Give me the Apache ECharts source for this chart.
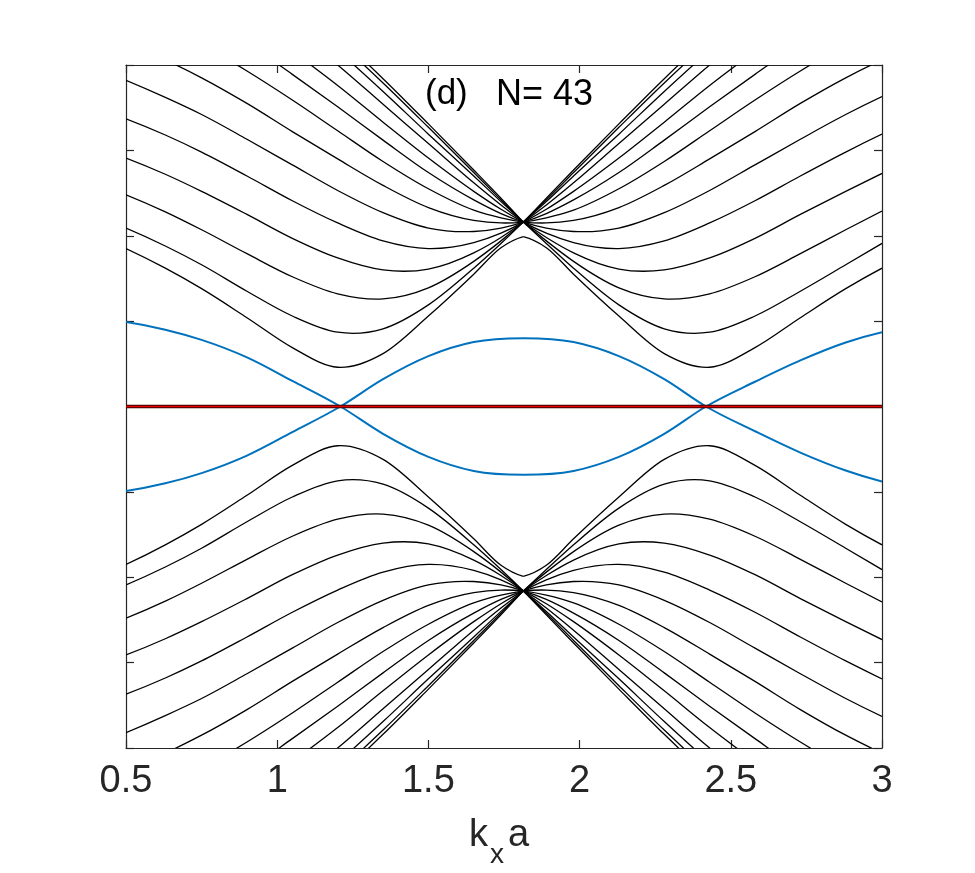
<!DOCTYPE html>
<html>
<head>
<meta charset="utf-8">
<script src="https://cdn.jsdelivr.net/npm/echarts@6/dist/echarts.min.js"></script>
<style>
    html, body { margin: 0; padding: 0; background: #ffffff; }
    #chart { width: 975px; height: 873px; }
</style>
</head>
<body>
<div id="chart"></div>
<script>
// k_x a sample points, left branch ends at the crossing, right branch starts there
var xLeft = [0.5, 0.63, 0.75, 0.9, 1.05, 1.2, 1.35, 1.5, 1.65, 1.74, 1.8138];
var xRight = [1.8138, 1.89, 1.98, 2.13, 2.28, 2.43, 2.58, 2.73, 2.88, 3.0];

// upper black bands, lowest first
var upperLeft = [
    [1.85, 1.62, 1.38, 1.04, 0.69, 0.46, 0.62, 1.06, 1.55, 1.86, 1.99],
    [2.09, 1.88, 1.66, 1.35, 1.06, 0.87, 0.91, 1.19, 1.62, 1.91, 2.16],
    [2.48, 2.28, 2.07, 1.79, 1.52, 1.32, 1.26, 1.39, 1.70, 1.94, 2.16],
    [2.91, 2.72, 2.52, 2.25, 1.97, 1.74, 1.60, 1.61, 1.80, 1.98, 2.16],
    [3.37, 3.18, 2.98, 2.70, 2.41, 2.15, 1.94, 1.85, 1.92, 2.03, 2.16],
    [3.82, 3.62, 3.42, 3.13, 2.83, 2.53, 2.27, 2.09, 2.05, 2.09, 2.16],
    [4.26, 4.06, 3.85, 3.55, 3.22, 2.90, 2.59, 2.33, 2.18, 2.15, 2.16],
    [4.66, 4.46, 4.24, 3.93, 3.59, 3.23, 2.87, 2.55, 2.30, 2.21, 2.16],
    [5.01, 4.80, 4.58, 4.26, 3.89, 3.51, 3.12, 2.74, 2.42, 2.26, 2.16],
    [5.33, 5.11, 4.88, 4.54, 4.16, 3.76, 3.33, 2.91, 2.52, 2.31, 2.16],
    [5.63, 5.41, 5.17, 4.82, 4.43, 4.00, 3.54, 3.08, 2.62, 2.36, 2.16],
    [5.85, 5.63, 5.38, 5.02, 4.62, 4.17, 3.69, 3.19, 2.70, 2.40, 2.16],
    [5.99, 5.76, 5.52, 5.15, 4.74, 4.28, 3.79, 3.27, 2.74, 2.42, 2.16],
    [6.07, 5.84, 5.59, 5.22, 4.80, 4.34, 3.84, 3.31, 2.77, 2.44, 2.16]
];
var upperRight = [
    [1.99, 1.86, 1.55, 1.06, 0.62, 0.46, 0.69, 1.04, 1.38, 1.62],
    [2.16, 1.91, 1.62, 1.19, 0.91, 0.87, 1.06, 1.35, 1.66, 1.91],
    [2.16, 1.94, 1.70, 1.39, 1.26, 1.32, 1.52, 1.79, 2.07, 2.29],
    [2.16, 1.98, 1.80, 1.61, 1.60, 1.74, 1.97, 2.25, 2.52, 2.73],
    [2.16, 2.03, 1.92, 1.85, 1.94, 2.15, 2.41, 2.70, 2.98, 3.19],
    [2.16, 2.09, 2.05, 2.09, 2.27, 2.53, 2.83, 3.13, 3.42, 3.63],
    [2.16, 2.15, 2.18, 2.33, 2.59, 2.90, 3.22, 3.55, 3.85, 4.06],
    [2.16, 2.21, 2.30, 2.55, 2.87, 3.23, 3.59, 3.93, 4.24, 4.46],
    [2.16, 2.26, 2.42, 2.74, 3.12, 3.51, 3.89, 4.26, 4.58, 4.80],
    [2.16, 2.31, 2.52, 2.91, 3.33, 3.76, 4.16, 4.54, 4.88, 5.11],
    [2.16, 2.36, 2.62, 3.08, 3.54, 4.00, 4.43, 4.82, 5.17, 5.41],
    [2.16, 2.40, 2.70, 3.19, 3.69, 4.17, 4.62, 5.02, 5.38, 5.63],
    [2.16, 2.42, 2.74, 3.27, 3.79, 4.28, 4.74, 5.15, 5.52, 5.76],
    [2.16, 2.44, 2.77, 3.31, 3.84, 4.34, 4.80, 5.22, 5.59, 5.84]
];

// lower black bands, highest first
var lowerLeft = [
    [-1.85, -1.62, -1.38, -1.04, -0.69, -0.46, -0.62, -1.06, -1.55, -1.86, -1.99],
    [-2.09, -1.88, -1.66, -1.35, -1.06, -0.87, -0.91, -1.19, -1.62, -1.91, -2.16],
    [-2.48, -2.28, -2.07, -1.79, -1.52, -1.32, -1.26, -1.39, -1.70, -1.94, -2.16],
    [-2.91, -2.72, -2.52, -2.25, -1.97, -1.74, -1.60, -1.61, -1.80, -1.98, -2.16],
    [-3.37, -3.18, -2.98, -2.70, -2.41, -2.15, -1.94, -1.85, -1.92, -2.03, -2.16],
    [-3.82, -3.62, -3.42, -3.13, -2.83, -2.53, -2.27, -2.09, -2.05, -2.09, -2.16],
    [-4.26, -4.06, -3.85, -3.55, -3.22, -2.90, -2.59, -2.33, -2.18, -2.15, -2.16],
    [-4.66, -4.46, -4.24, -3.93, -3.59, -3.23, -2.87, -2.55, -2.30, -2.21, -2.16],
    [-5.01, -4.80, -4.58, -4.26, -3.89, -3.51, -3.12, -2.74, -2.42, -2.26, -2.16],
    [-5.33, -5.11, -4.88, -4.54, -4.16, -3.76, -3.33, -2.91, -2.52, -2.31, -2.16],
    [-5.63, -5.41, -5.17, -4.82, -4.43, -4.00, -3.54, -3.08, -2.62, -2.36, -2.16],
    [-5.85, -5.63, -5.38, -5.02, -4.62, -4.17, -3.69, -3.19, -2.70, -2.40, -2.16],
    [-5.99, -5.76, -5.52, -5.15, -4.74, -4.28, -3.79, -3.27, -2.74, -2.42, -2.16],
    [-6.07, -5.84, -5.59, -5.22, -4.80, -4.34, -3.84, -3.31, -2.77, -2.44, -2.16]
];
var lowerRight = [
    [-1.99, -1.86, -1.55, -1.06, -0.62, -0.46, -0.69, -1.04, -1.38, -1.62],
    [-2.16, -1.91, -1.62, -1.19, -0.91, -0.87, -1.06, -1.35, -1.66, -1.91],
    [-2.16, -1.94, -1.70, -1.39, -1.26, -1.32, -1.52, -1.79, -2.07, -2.29],
    [-2.16, -1.98, -1.80, -1.61, -1.60, -1.74, -1.97, -2.25, -2.52, -2.73],
    [-2.16, -2.03, -1.92, -1.85, -1.94, -2.15, -2.41, -2.70, -2.98, -3.19],
    [-2.16, -2.09, -2.05, -2.09, -2.27, -2.53, -2.83, -3.13, -3.42, -3.63],
    [-2.16, -2.15, -2.18, -2.33, -2.59, -2.90, -3.22, -3.55, -3.85, -4.06],
    [-2.16, -2.21, -2.30, -2.55, -2.87, -3.23, -3.59, -3.93, -4.24, -4.46],
    [-2.16, -2.26, -2.42, -2.74, -3.12, -3.51, -3.89, -4.26, -4.58, -4.80],
    [-2.16, -2.31, -2.52, -2.91, -3.33, -3.76, -4.16, -4.54, -4.88, -5.11],
    [-2.16, -2.36, -2.62, -3.08, -3.54, -4.00, -4.43, -4.82, -5.17, -5.41],
    [-2.16, -2.40, -2.70, -3.19, -3.69, -4.17, -4.62, -5.02, -5.38, -5.63],
    [-2.16, -2.42, -2.74, -3.27, -3.79, -4.28, -4.74, -5.15, -5.52, -5.76],
    [-2.16, -2.44, -2.77, -3.31, -3.84, -4.34, -4.80, -5.22, -5.59, -5.84]
];

// edge states (blue) and the flat band (red)
var xBlue = [0.5, 0.63, 0.75, 0.9, 1.05, 1.209, 1.35, 1.5, 1.65, 1.8138, 1.98, 2.13, 2.28, 2.418, 2.58, 2.73, 2.88, 3.0];
var blueA = [0.99, 0.90, 0.78, 0.575, 0.30, 0, -0.32, -0.59, -0.755, -0.80, -0.755, -0.59, -0.32, 0, 0.29, 0.54, 0.75, 0.87];
var blueB = [-0.99, -0.90, -0.78, -0.575, -0.30, 0, 0.32, 0.59, 0.755, 0.80, 0.755, 0.59, 0.32, 0, -0.29, -0.54, -0.75, -0.88];
var xFlat = [0.5, 3.0];
var flatBand = [0, 0];

var FONT = '"Liberation Sans", Arial, Helvetica, sans-serif';
var AXIS_COLOR = '#262626';

// every curve the custom series will draw, in drawing order
var curves = [];
function addCurves(xs, list, color, width) {
    list.forEach(function (ys) {
        curves.push({ xs: xs, ys: ys, color: color, width: width });
    });
}
addCurves(xLeft, upperLeft, '#000000', 1.3);
addCurves(xRight, upperRight, '#000000', 1.3);
addCurves(xLeft, lowerLeft, '#000000', 1.3);
addCurves(xRight, lowerRight, '#000000', 1.3);
addCurves(xBlue, [blueA, blueB], '#0072BD', 2);
addCurves(xFlat, [flatBand], '#400000', 3.5);
addCurves(xFlat, [flatBand], '#e00000', 1.6);

// smooth path through the pixel points (cubic Hermite, slopes from neighbours)
function smoothPath(pts) {
    var n = pts.length;
    var d = 'M' + pts[0][0] + ' ' + pts[0][1];
    if (n < 3) {
        for (var j = 1; j < n; j++) d += ' L' + pts[j][0] + ' ' + pts[j][1];
        return d;
    }
    var h = [], s = [], m = [];
    for (var i = 0; i < n - 1; i++) {
        h.push(pts[i + 1][0] - pts[i][0]);
        s.push((pts[i + 1][1] - pts[i][1]) / h[i]);
    }
    m[0] = s[0] + (s[0] - s[1]) * h[0] / (h[0] + h[1]);
    for (i = 1; i < n - 1; i++) {
        m[i] = (h[i] * s[i - 1] + h[i - 1] * s[i]) / (h[i - 1] + h[i]);
    }
    m[n - 1] = s[n - 2] + (s[n - 2] - s[n - 3]) * h[n - 2] / (h[n - 3] + h[n - 2]);
    for (i = 0; i < n - 1; i++) {
        var t = h[i] / 3;
        d += ' C' + (pts[i][0] + t) + ' ' + (pts[i][1] + m[i] * t) +
            ' ' + (pts[i + 1][0] - t) + ' ' + (pts[i + 1][1] - m[i + 1] * t) +
            ' ' + pts[i + 1][0] + ' ' + pts[i + 1][1];
    }
    return d;
}

function renderCurve(params, api) {
    var c = curves[params.dataIndex];
    var points = c.xs.map(function (x, i) {
        return api.coord([x, c.ys[i]]);
    });
    return {
        type: 'path',
        silent: true,
        z2: params.dataIndex,
        shape: { pathData: smoothPath(points) },
        style: { stroke: c.color, lineWidth: c.width, fill: 'none' }
    };
}

function xAxisDef(pos, showLabels) {
    return {
        type: 'value',
        position: pos,
        min: 0.5,
        max: 3,
        interval: 0.5,
        axisLine: { show: true, onZero: false, lineStyle: { color: AXIS_COLOR, width: 1.2 } },
        axisTick: { show: true, inside: true, length: 8, lineStyle: { color: AXIS_COLOR, width: 1.2 } },
        axisLabel: {
            show: showLabels, margin: 15, color: '#262626',
            fontSize: 38, fontFamily: FONT
        },
        splitLine: { show: false }
    };
}

function yAxisDef(pos) {
    return {
        type: 'value',
        position: pos,
        min: -4,
        max: 4,
        interval: 1,
        axisLine: { show: true, onZero: false, lineStyle: { color: AXIS_COLOR, width: 1.2 } },
        axisTick: { show: true, inside: true, length: 8, lineStyle: { color: AXIS_COLOR, width: 1.2 } },
        axisLabel: { show: false },
        splitLine: { show: false }
    };
}

var chart = echarts.init(document.getElementById('chart'));
chart.setOption({
    backgroundColor: '#ffffff',
    animation: false,
    textStyle: { fontFamily: FONT },
    grid: { left: 126, right: 93, top: 65, bottom: 125, containLabel: false },
    xAxis: [xAxisDef('bottom', true), xAxisDef('top', false)],
    yAxis: [yAxisDef('left'), yAxisDef('right')],
    graphic: [
        { type: 'text', left: 425, top: 77, style: { text: '(d)', fontSize: 35, fontFamily: FONT, fill: '#000' } },
        { type: 'text', left: 496, top: 77, style: { text: 'N= 43', fontSize: 36, fontFamily: FONT, fill: '#000' } },
        { type: 'text', left: 469, top: 817, style: { text: 'k', fontSize: 38, fontFamily: FONT, fill: '#262626' } },
        { type: 'text', left: 490, top: 841, style: { text: 'x', fontSize: 28, fontFamily: FONT, fill: '#262626' } },
        { type: 'text', left: 508, top: 817, style: { text: 'a', fontSize: 38, fontFamily: FONT, fill: '#262626' } }
    ],
    series: [{
        type: 'custom',
        coordinateSystem: 'cartesian2d',
        xAxisIndex: 0,
        yAxisIndex: 0,
        clip: true,
        silent: true,
        animation: false,
        renderItem: renderCurve,
        data: curves.map(function (c) { return [c.xs[0], c.ys[0]]; })
    }]
});
</script>
</body>
</html>
